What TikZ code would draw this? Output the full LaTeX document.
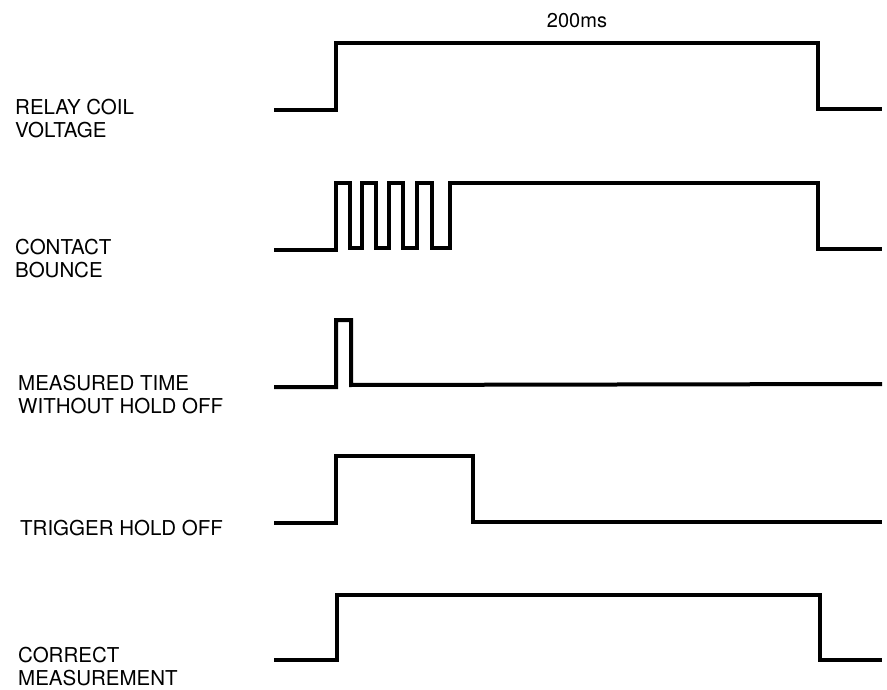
\documentclass[tikz,border=0pt]{standalone}
\usepackage{fontspec}
\setmainfont{TeX Gyre Heros}
\begin{document}
\begin{tikzpicture}[x=1pt,y=-1pt,
  wave/.style={line width=4pt, line join=miter, line cap=butt},
  lbl/.style={anchor=base west, inner sep=0pt, align=left, font=\fontsize{20.5}{23}\selectfont}]
\useasboundingbox (0,0) rectangle (887,690);
% labels (base anchor = baseline of last line)
\node[lbl] (relay) at (15,138) {RELAY COIL\\VOLTAGE};
\node[lbl] (bounce) at (15,277) {CONTACT\\BOUNCE};
\node[lbl] (meas) at (18,413) {MEASURED TIME\\WITHOUT HOLD OFF};
\node[lbl] (trig) at (20,535) {TRIGGER HOLD OFF};
\node[lbl] (corr) at (18,685) {CORRECT\\MEASUREMENT};
\node[anchor=base, inner sep=0pt, font=\fontsize{20}{22}\selectfont] (t200) at (577,28) {200ms};
% relay coil voltage
\draw[wave] (274,110) -- (336,110) -- (336,43) -- (818,43) -- (818,109) -- (882,109);
% contact bounce
\draw[wave] (274,250) -- (336,250) -- (336,183) -- (350,183) -- (350,248)
  -- (362,248) -- (362,183) -- (376,183) -- (376,248)
  -- (389,248) -- (389,183) -- (403,183) -- (403,248)
  -- (417,248) -- (417,183) -- (432,183) -- (432,248)
  -- (450,248) -- (450,183) -- (818,183) -- (818,249) -- (882,249);
% measured time without hold off
\draw[wave] (274,387) -- (336,387) -- (336,320) -- (351,320) -- (351,385) -- (882,384);
% trigger hold off
\draw[wave] (274,523) -- (336,523) -- (336,456) -- (473,456) -- (473,522) -- (882,522);
% correct measurement
\draw[wave] (274,660) -- (337,660) -- (337,595) -- (820,595) -- (820,660) -- (882,660);
\end{tikzpicture}
\end{document}
